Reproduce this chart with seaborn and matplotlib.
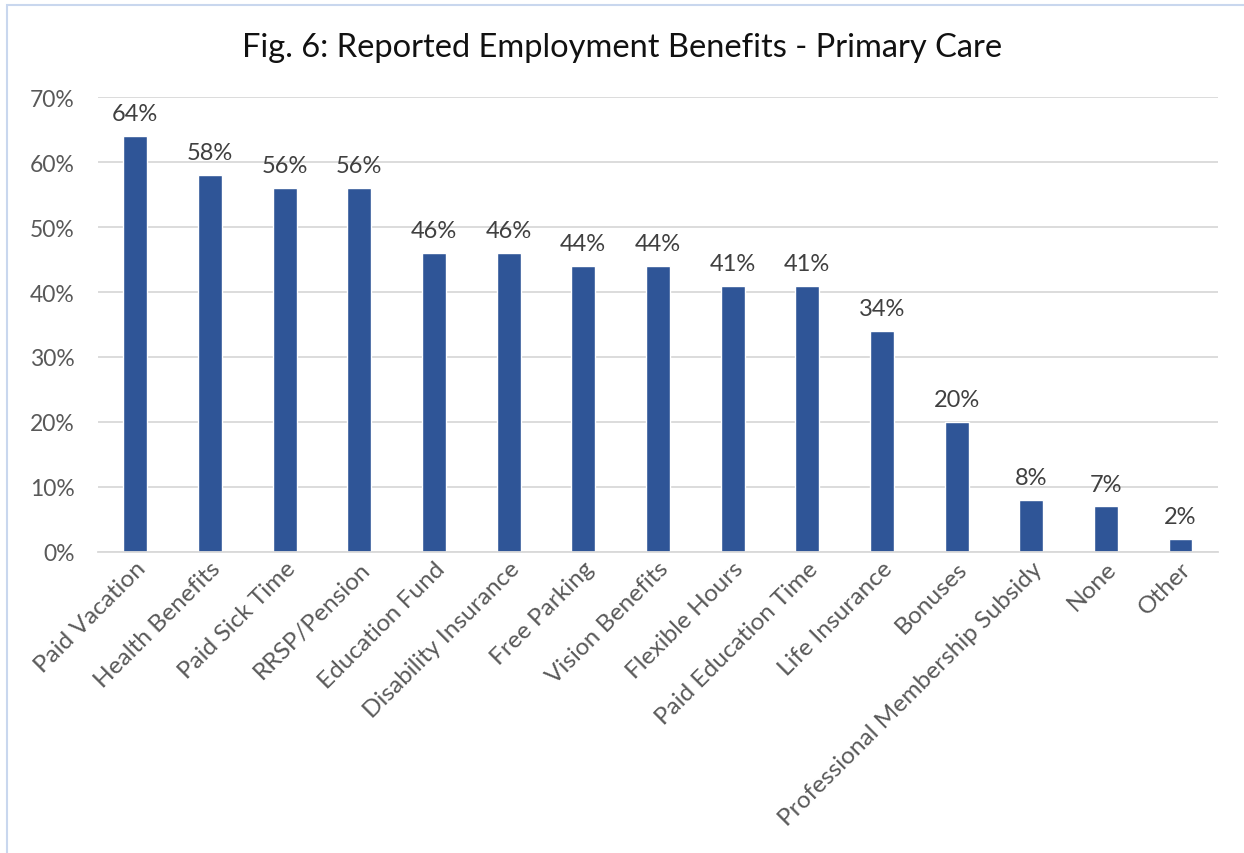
import matplotlib
matplotlib.use("Agg")
import matplotlib.pyplot as plt
import seaborn as sns
import pandas as pd
from matplotlib.patches import Rectangle

benefits = ["Paid Vacation", "Health Benefits", "Paid Sick Time", "RRSP/Pension",
            "Education Fund", "Disability Insurance", "Free Parking", "Vision Benefits",
            "Flexible Hours", "Paid Education Time", "Life Insurance", "Bonuses",
            "Professional Membership Subsidy", "None", "Other"]
shares = [64, 58, 56, 56, 46, 46, 44, 44, 41, 41, 34, 20, 8, 7, 2]
y_ticks = [0, 10, 20, 30, 40, 50, 60, 70]

df = pd.DataFrame({"benefit": benefits, "share": shares})

sns.set_style("white")
plt.rcParams["font.family"] = ["Lato", "DejaVu Sans"]
text_col = "#595959"

fig = plt.figure(figsize=(12.44, 8.54), dpi=100)
ax = fig.add_axes([0.0788, 0.3525, 0.9002, 0.5327])

sns.barplot(data=df, x="benefit", y="share", color="#2F5597", saturation=1,
            width=0.32, ax=ax)

ax.set_ylim(0, 70)
ax.set_xlim(-0.5, len(benefits) - 0.5)
ax.set_yticks(y_ticks)
ax.set_yticklabels([f"{t}%" for t in y_ticks], fontsize=16.5, color=text_col)
ax.yaxis.grid(True, color="#D9D9D9", linewidth=1.3)
ax.set_axisbelow(True)
ax.tick_params(axis="y", length=0, pad=17)
ax.tick_params(axis="x", length=0, pad=4)
for s in ["top", "right", "left"]:
    ax.spines[s].set_visible(False)
ax.spines["bottom"].set_color("#D9D9D9")
ax.spines["bottom"].set_linewidth(1.3)

ax.set_xticks(range(len(benefits)))
ax.set_xticklabels(benefits, rotation=45, ha="right", rotation_mode="anchor",
                   fontsize=17.6, color=text_col)
ax.set_xlabel("")
ax.set_ylabel("")

for i, v in enumerate(shares):
    ax.text(i, v + 1.8, f"{v}%", ha="center", va="bottom", fontsize=17, color="#404040")

fig.text(0.5, 0.944, "Fig. 6: Reported Employment Benefits - Primary Care",
         ha="center", va="center", fontsize=23.5, color="#111111")

fig.patches.append(Rectangle((7 / 1244, -0.1), 1.2, 1.1 - 6 / 854,
                             transform=fig.transFigure, fill=False,
                             edgecolor="#C9D7EE", linewidth=1.5))

fig.savefig("out.png", dpi=100)
